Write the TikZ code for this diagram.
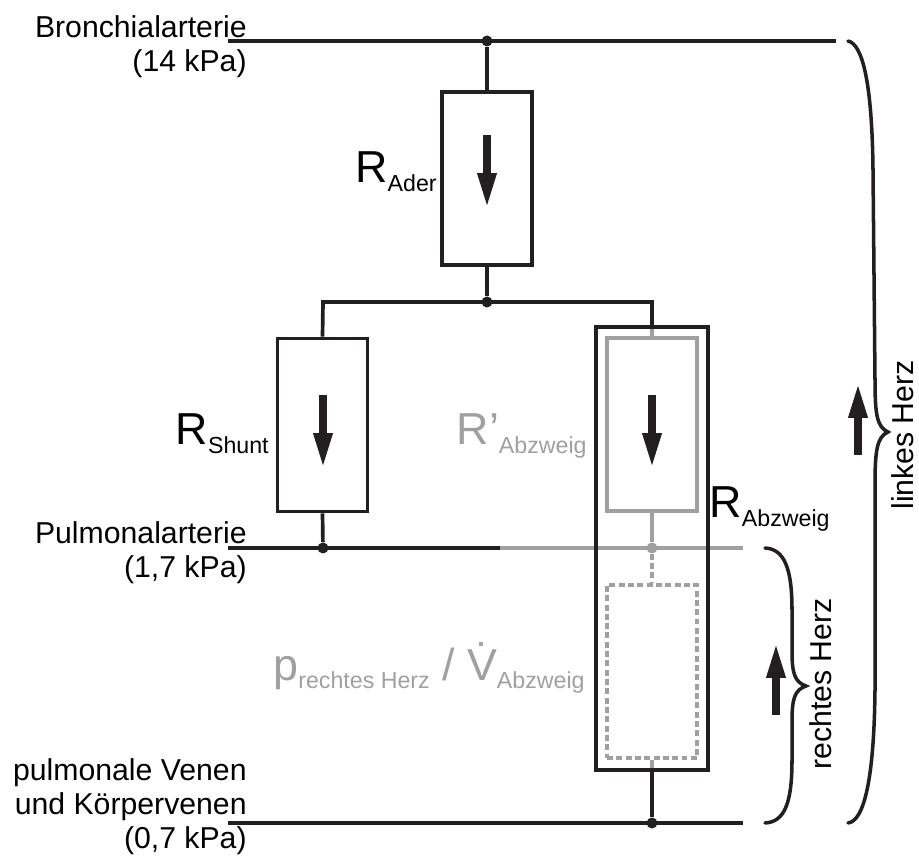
\documentclass[tikz,border=0pt]{standalone}
\usepackage{fontspec}
\setmainfont{Liberation Sans}
\usetikzlibrary{arrows.meta}
\definecolor{ink}{RGB}{35,31,32}
\definecolor{pale}{RGB}{160,160,160}
\newcommand{\bigsize}{\fontsize{25.5}{26}\selectfont}
\newcommand{\subsize}{\fontsize{13.2}{14}\selectfont}
\newcommand{\rlabel}[2]{{\bigsize #1}\raisebox{-5.1pt}{\subsize #2}}
\tikzset{
	wire/.style={ink,line width=2.1pt},
	palewire/.style={pale,line width=2.1pt},
	dashwire/.style={pale,line width=2.1pt,dash pattern=on 3.4pt off 1.9pt},
	resbox/.style={draw=ink,line width=2.1pt,minimum width=1.8cm,minimum height=3.46cm,inner sep=0pt},
	junction/.style={circle,fill=ink,minimum size=0.22cm,inner sep=0pt},
	flow/.style={ink,line width=0.17cm,-{Triangle[length=0.74cm,width=0.34cm]}},
	brace/.style={ink,line width=2pt,line cap=round},
	vessel/.style={anchor=east,align=right,inner sep=0pt,font=\fontsize{17.2}{19.3}\selectfont},
	tag/.style={anchor=base east,inner sep=0pt},
	side/.style={rotate=90,anchor=base west,inner sep=0pt,font=\fontsize{17.2}{19.3}\selectfont}
}
\begin{document}
\begin{tikzpicture}[x=0.02cm,y=-0.02cm]
	\useasboundingbox (0,0) rectangle (919,857);

	% rails
	\coordinate (broL) at (228,41);
	\coordinate (broR) at (836,41);
	\coordinate (pulL) at (228,548);
	\coordinate (pulM) at (500,548);
	\coordinate (pulR) at (743,548);
	\coordinate (venL) at (228,823);
	\coordinate (venR) at (743,823);
	\node [junction] (broJ) at (487,41) {};
	\node [junction] (midJ) at (487,302) {};
	\node [junction] (pulJ) at (323,548) {};
	\node [junction,fill=pale] (abzJ) at (652,548) {};
	\node [junction] (venJ) at (652,823) {};
	\coordinate (shuntT) at (323,302);
	\coordinate (abzT) at (652,302);
	\coordinate (outerT) at (652,327);
	\coordinate (outerB) at (652,770);

	% resistors
	\node [resbox] (ader) at (487,178.5) {};
	\node [resbox] (shunt) at (322.5,425) {};
	\node [resbox,draw=pale] (abzw) at (652,424.5) {};
	\node [resbox,draw=pale,dash pattern=on 3.4pt off 1.9pt] (herz) at (652,671.5) {};

	% pale branch goes under the outer box
	\draw [palewire] (pulM) -- (pulR);
	\draw [palewire] (outerT) -- (abzw.north);
	\draw [palewire] (abzw.south) -- (abzJ);
	\draw [dashwire] (abzJ) -- (herz.north);
	\draw [palewire] (herz.south) -- (outerB);
	\node [resbox,minimum width=2.24cm,minimum height=8.86cm] (outer) at (652,548.5) {};

	\draw [wire] (broL) -- (broR);
	\draw [wire] (pulL) -- (pulM);
	\draw [wire] (venL) -- (venR);
	\draw [wire] (broJ) -- (ader.north);
	\draw [wire] (ader.south) -- (midJ);
	\draw [wire] (shunt.north) -- (shuntT) -- (abzT) -- (outerT);
	\draw [wire] (shunt.south) -- (pulJ);
	\draw [wire] (outerB) -- (venJ);

	% flow arrows
	\draw [flow] (487,135) -- (487,210);
	\draw [flow] (323,395) -- (323,470);
	\draw [flow] (652,395) -- (652,470);
	\draw [flow] (858,455) -- (858,381);
	\draw [flow] (776,715) -- (776,641);

	% braces
	\draw [brace] (765,548) .. controls (785,549) and (792,570) .. (792,610) -- (792,650) .. controls (792,672) and (794,682) .. (806,686) .. controls (794,690) and (792,700) .. (792,722) -- (792,760) .. controls (792,802) and (785,822) .. (765,823);
	\draw [brace] (848,41) .. controls (862,44) and (872,80) .. (873,170) -- (875,380) .. controls (875,415) and (877,427) .. (888,432) .. controls (877,437) and (875,450) .. (875,485) -- (875,690) .. controls (874,780) and (864,821) .. (848,823);

	% labels
	\node [vessel] (bro) at (247,47) {Bronchialarterie\\(14 kPa)};
	\node [vessel] (pul) at (247,553) {Pulmonalarterie\\(1,7 kPa)};
	\node [vessel] (ven) at (247,807) {pulmonale Venen\\und Körpervenen\\(0,7 kPa)};
	\node [tag] (rader) at (437,183) {\rlabel{R}{Ader}};
	\node [tag] (rshunt) at (269,445) {\rlabel{R}{Shunt}};
	\node [tag,text=pale] (rstrich) at (587,445) {\rlabel{R'}{Abzweig}};
	\node [tag] (rabzw) at (830,518) {\rlabel{R}{Abzweig}};
	\node [tag,text=pale] (pherz) at (585,680) {\rlabel{p}{rechtes Herz}{\bigsize\ /\ \.{V}}\raisebox{-5.1pt}{\subsize Abzweig}};
	\node [side] (rechts) at (831,770) {rechtes Herz};
	\node [side] (links) at (913,510) {linkes Herz};
\end{tikzpicture}
\end{document}
